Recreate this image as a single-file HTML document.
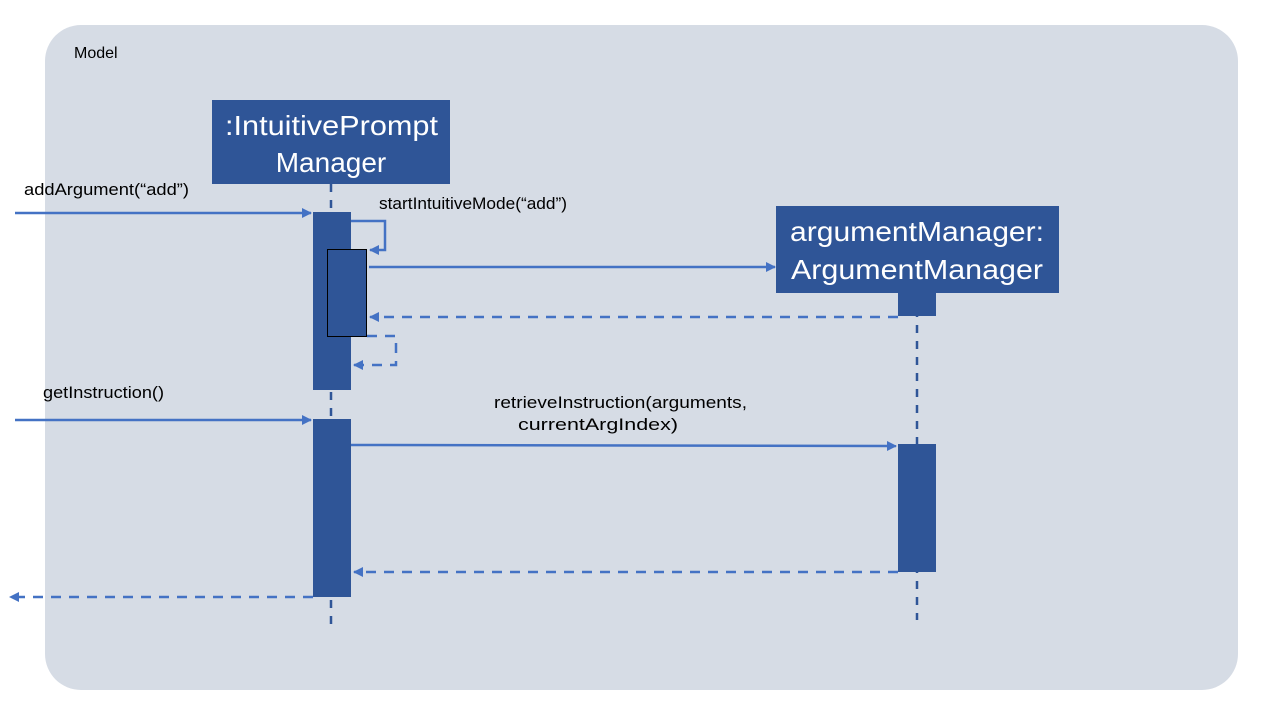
<!DOCTYPE html>
<html><head><style>body{margin:0;background:#fff}svg{display:block}text{font-family:"Liberation Sans",sans-serif}</style></head><body>
<svg width="1280" height="720" viewBox="0 0 1280 720">
<defs><marker id="a" markerWidth="10" markerHeight="10" refX="9" refY="5" orient="auto" markerUnits="userSpaceOnUse"><path d="M0,0 L10,5 L0,10 z" fill="#4472c4"/></marker></defs>
<rect x="45" y="25" width="1193" height="665" rx="36" fill="#d6dce5"/>
<text x="74" y="58" font-size="16" fill="#000">Model</text>
<rect x="212" y="100" width="238" height="84" fill="#2f5597"/>
<text x="225" y="135" font-size="28" fill="#fff" textLength="213" lengthAdjust="spacingAndGlyphs">:IntuitivePrompt</text>
<text x="331" y="172" font-size="28" fill="#fff" text-anchor="middle">Manager</text>
<rect x="776" y="206" width="283" height="87" fill="#2f5597"/>
<text x="790" y="241" font-size="28" fill="#fff" textLength="254" lengthAdjust="spacingAndGlyphs">argumentManager:</text>
<text x="791" y="279" font-size="28" fill="#fff" textLength="252" lengthAdjust="spacingAndGlyphs">ArgumentManager</text>
<g stroke="#2f5597" stroke-width="2.5" stroke-dasharray="8,8">
<line x1="331" y1="184" x2="331" y2="630"/>
<line x1="917" y1="293" x2="917" y2="620"/>
</g>
<rect x="313" y="212" width="38" height="178" fill="#2f5597"/>
<rect x="313" y="419" width="38" height="178" fill="#2f5597"/>
<rect x="898" y="293" width="38" height="23" fill="#2f5597"/>
<rect x="898" y="444" width="38" height="128" fill="#2f5597"/>
<rect x="327.5" y="249.5" width="39" height="87" fill="#2f5597" stroke="#000" stroke-width="1"/>
<g stroke="#4472c4" stroke-width="2.5" fill="none">
<line x1="15" y1="213" x2="311" y2="213" marker-end="url(#a)"/>
<polyline points="351,221 385,221 385,250 370,250" marker-end="url(#a)"/>
<line x1="369" y1="267" x2="775" y2="267" marker-end="url(#a)"/>
<line x1="898" y1="317" x2="370" y2="317" stroke-dasharray="10,8" marker-end="url(#a)"/>
<polyline points="367,336 396,336 396,365 354,365" stroke-dasharray="10,8" marker-end="url(#a)"/>
<line x1="15" y1="420" x2="311" y2="420" marker-end="url(#a)"/>
<line x1="351" y1="445" x2="896" y2="446" marker-end="url(#a)"/>
<line x1="898" y1="572" x2="354" y2="572" stroke-dasharray="10,8" marker-end="url(#a)"/>
<line x1="313" y1="597" x2="10" y2="597" stroke-dasharray="10,8" marker-end="url(#a)"/>
</g>
<g font-size="17" fill="#000" lengthAdjust="spacingAndGlyphs">
<text x="24" y="195" textLength="165" lengthAdjust="spacingAndGlyphs">addArgument(“add”)</text>
<text x="379" y="209" textLength="188" lengthAdjust="spacingAndGlyphs">startIntuitiveMode(“add”)</text>
<text x="43" y="398" textLength="121" lengthAdjust="spacingAndGlyphs">getInstruction()</text>
<text x="494" y="408" textLength="253" lengthAdjust="spacingAndGlyphs">retrieveInstruction(arguments,</text>
<text x="518" y="430" textLength="160" lengthAdjust="spacingAndGlyphs">currentArgIndex)</text>
</g>
</svg>
</body></html>
